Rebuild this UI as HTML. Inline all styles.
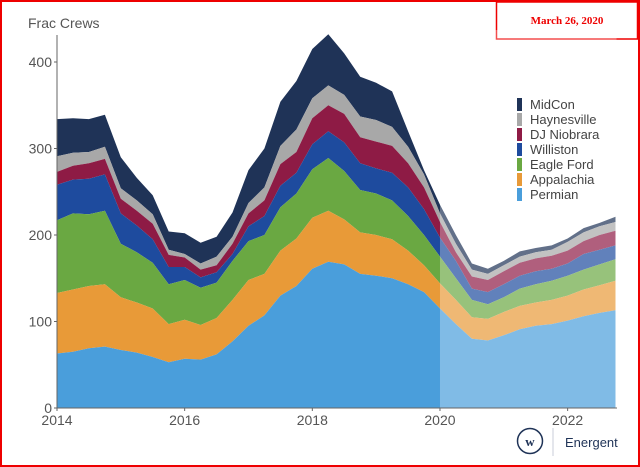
<!DOCTYPE html>
<html><head><meta charset="utf-8"><style>
body{margin:0;background:#fff}
svg{display:block;font-family:"Liberation Sans",sans-serif}
</style></head><body>
<svg width="640" height="467">
<rect x="1" y="1" width="638" height="465" fill="#fff" stroke="#e00" stroke-width="2"/>
<rect x="496.5" y="2" width="141" height="37" fill="#fff" stroke="#e00" stroke-width="1.5"/>
<text x="567" y="24" text-anchor="middle" font-family="Liberation Serif,serif" font-weight="bold" font-size="11" fill="#e00">March 26, 2020</text>
<text x="28" y="28" font-size="14" fill="#555">Frac Crews</text>
<g id="areas"></g>
<g id="axes"></g>
<g id="legend"></g>
<g>
<circle cx="530" cy="441" r="12.5" fill="none" stroke="#1f3357" stroke-width="1.5"/>
<text x="530" y="446" text-anchor="middle" font-family="Liberation Serif,serif" font-weight="bold" font-size="13" fill="#1f3357">w</text>
<line x1="553" y1="428" x2="553" y2="456" stroke="#c8cdd8" stroke-width="1"/>
<text x="565" y="447" font-size="13" fill="#1f3357">Energent</text>
</g>
</svg>
<script>
const series = ["Permian","Appalachia","Eagle Ford","Williston","DJ Niobrara","Haynesville","MidCon"];
const colors = ["#4a9edb","#e89a38","#6aa842","#1e4b9e","#8e1b45","#a8a8a8","#1f3357"];
const xTickLabels = ["2014","2016","2018","2020","2022"];
const yTickLabels = [0,100,200,300,400];
const startYear = 2014, step = 0.25;
// stacked cumulative tops per series, quarterly from 2014.0
const permianTop = [63,65,69,71,67,64,59,53,57,56,62,77,95,107,130,141,161,169,166,155,153,150,143,134,115,97,80,78,84,91,95,97,101,106,110,113];
const appalachiaTop = [133,137,141,143,128,122,115,97,102,96,104,125,148,155,182,196,220,228,218,203,200,195,182,165,144,125,105,103,111,118,122,125,130,137,142,147];
const eagleFordTop = [217,225,224,228,190,180,168,143,148,139,145,170,193,200,232,248,276,289,274,252,248,240,222,200,175,150,125,120,128,138,143,147,153,160,166,172];
const willistonTop = [258,264,265,270,225,211,195,163,163,151,157,178,210,222,257,272,305,320,307,283,277,272,255,230,197,170,138,134,143,153,158,161,167,178,183,188];
const djTop = [273,280,283,288,242,228,213,177,174,160,165,190,225,240,282,296,335,350,340,313,308,303,283,255,215,180,152,148,158,168,173,176,182,193,200,205];
const haynesvilleTop = [291,295,296,302,254,240,224,183,178,167,175,198,237,255,303,322,358,373,362,337,333,325,302,270,225,190,160,155,165,175,180,183,192,203,210,215];
const midconTop = [334,335,334,339,290,266,246,204,202,191,198,226,275,300,354,378,415,432,410,383,376,366,320,275,235,200,167,161,170,181,185,188,196,208,214,221];
const tops = [permianTop,appalachiaTop,eagleFordTop,willistonTop,djTop,haynesvilleTop,midconTop];
const NS="http://www.w3.org/2000/svg";
const xs = y => 57 + (y-2014)*63.83;
const ys = v => 408 - v*0.865;
const areas=document.getElementById('areas');
for(let s=tops.length-1;s>=0;s--){
  const t=tops[s], b=s>0?tops[s-1]:null;
  let d="";
  t.forEach((v,i)=>{d+=(i?"L":"M")+xs(startYear+i*step).toFixed(1)+","+ys(v).toFixed(1);});
  for(let i=t.length-1;i>=0;i--){d+="L"+xs(startYear+i*step).toFixed(1)+","+ys(b?b[i]:0).toFixed(1);}
  const p=document.createElementNS(NS,'path');
  p.setAttribute('d',d+"Z");p.setAttribute('fill',colors[s]);
  
  
  areas.appendChild(p);
}
const fc=document.createElementNS(NS,'rect');
fc.setAttribute('x',xs(2020));fc.setAttribute('y',30);fc.setAttribute('width',xs(2022.75)-xs(2020)+1);fc.setAttribute('height',378);
fc.setAttribute('fill','#fff');fc.setAttribute('opacity','0.3');


areas.appendChild(fc);
const axes=document.getElementById('axes');
function ln(x1,y1,x2,y2,n){const l=document.createElementNS(NS,'line');l.setAttribute('x1',x1);l.setAttribute('y1',y1);l.setAttribute('x2',x2);l.setAttribute('y2',y2);l.setAttribute('stroke','#666');l.setAttribute('stroke-width','1');


axes.appendChild(l);}
ln(57,35,57,408,'y-axis-line');ln(57,408,617,408,'x-axis-line');
yTickLabels.forEach(v=>{ln(54,ys(v),57,ys(v),'y-tick');const t=document.createElementNS(NS,'text');t.setAttribute('x',52);t.setAttribute('y',ys(v)+5);t.setAttribute('text-anchor','end');t.setAttribute('font-size','14');t.setAttribute('fill','#555');t.textContent=v;


axes.appendChild(t);});
xTickLabels.forEach(v=>{const x=xs(+v);ln(x,408,x,411,'x-tick');const t=document.createElementNS(NS,'text');t.setAttribute('x',x);t.setAttribute('y',425);t.setAttribute('text-anchor','middle');t.setAttribute('font-size','14');t.setAttribute('fill','#555');t.textContent=v;


axes.appendChild(t);});
const lg=document.getElementById('legend');
const order=[6,5,4,3,2,1,0];
order.forEach((s,i)=>{const y=97+i*15;const r=document.createElementNS(NS,'rect');r.setAttribute('x',517);r.setAttribute('y',y+1);r.setAttribute('width',5);r.setAttribute('height',13);r.setAttribute('fill',colors[s]);


lg.appendChild(r);
const t=document.createElementNS(NS,'text');t.setAttribute('x',530);t.setAttribute('y',y+12);t.setAttribute('font-size','13');t.setAttribute('fill','#444');t.textContent=series[s];


lg.appendChild(t);});
</script>
</body></html>
